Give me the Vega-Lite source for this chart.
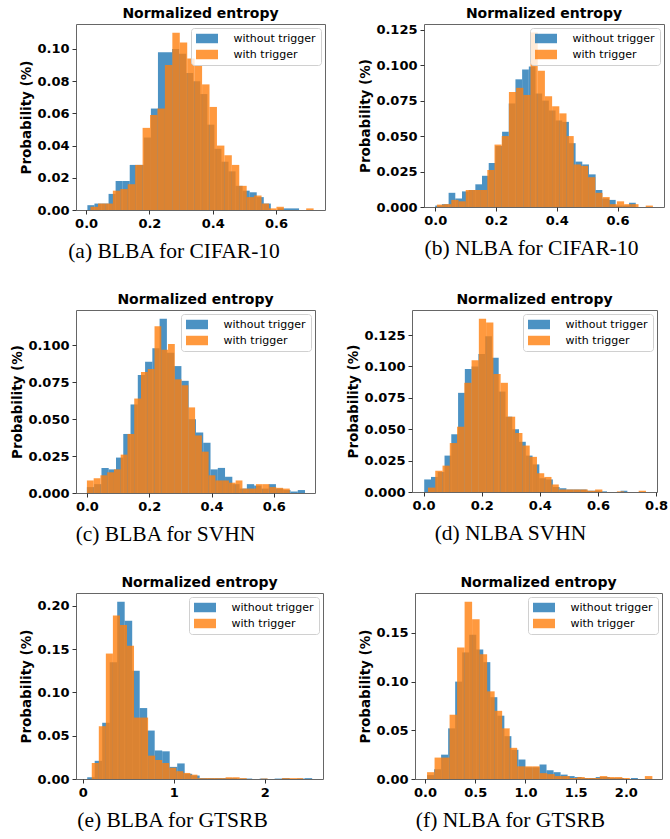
{
 "$schema": "https://vega.github.io/schema/vega-lite/v6.json",
 "padding": {"left": 10, "top": 6, "right": 0, "bottom": 0},
 "background": "white",
 "config": {
  "view": {"stroke": "#666", "strokeWidth": 1},
  "font": "DejaVu Sans",
  "title": {"font": "DejaVu Sans", "fontSize": 14, "fontWeight": "bold", "color": "#000", "offset": 3, "frame": "group", "anchor": "middle"},
  "axis": {"grid": false, "domain": false, "ticks": true, "tickSize": 4, "tickColor": "#333", "labelFont": "DejaVu Sans", "labelFontSize": 13, "labelFontWeight": "bold", "labelColor": "#000", "labelPadding": 3, "titleColor": "#000", "labelOverlap": false, "labelFlush": false},
  "axisX": {"titleFont": "Liberation Serif", "titleFontSize": 21.5, "titleFontWeight": "normal", "titlePadding": 10},
  "axisY": {"titleFont": "DejaVu Sans", "titleFontSize": 13.5, "titleFontWeight": "bold", "titlePadding": 3},
  "legend": {"orient": "top-right", "offset": 4, "padding": 5, "strokeColor": "#d0d0d0", "fillColor": "rgba(255,255,255,0.8)", "cornerRadius": 3, "labelFont": "DejaVu Sans", "labelFontSize": 11, "labelColor": "#000", "symbolType": "M-2,-0.86H2V0.86H-2Z", "symbolSize": 121, "symbolOpacity": 0.8, "symbolStrokeWidth": 0, "symbolOffset": 5.5, "labelOffset": 21, "rowPadding": 4}
 },
 "data": {"values": [
  {"p":"a","s":"without trigger","x0":0.0040,"x1":0.0263,"v":0.003},
  {"p":"a","s":"without trigger","x0":0.0263,"x1":0.0486,"v":0.004},
  {"p":"a","s":"without trigger","x0":0.0486,"x1":0.0709,"v":0.004},
  {"p":"a","s":"without trigger","x0":0.0709,"x1":0.0932,"v":0.010},
  {"p":"a","s":"without trigger","x0":0.0932,"x1":0.1155,"v":0.018},
  {"p":"a","s":"without trigger","x0":0.1155,"x1":0.1378,"v":0.018},
  {"p":"a","s":"without trigger","x0":0.1378,"x1":0.1601,"v":0.028},
  {"p":"a","s":"without trigger","x0":0.1601,"x1":0.1824,"v":0.028},
  {"p":"a","s":"without trigger","x0":0.1824,"x1":0.2047,"v":0.045},
  {"p":"a","s":"without trigger","x0":0.2047,"x1":0.2270,"v":0.063},
  {"p":"a","s":"without trigger","x0":0.2270,"x1":0.2493,"v":0.098},
  {"p":"a","s":"without trigger","x0":0.2493,"x1":0.2716,"v":0.098},
  {"p":"a","s":"without trigger","x0":0.2716,"x1":0.2939,"v":0.100},
  {"p":"a","s":"without trigger","x0":0.2939,"x1":0.3162,"v":0.097},
  {"p":"a","s":"without trigger","x0":0.3162,"x1":0.3385,"v":0.085},
  {"p":"a","s":"without trigger","x0":0.3385,"x1":0.3608,"v":0.080},
  {"p":"a","s":"without trigger","x0":0.3608,"x1":0.3831,"v":0.072},
  {"p":"a","s":"without trigger","x0":0.3831,"x1":0.4054,"v":0.053},
  {"p":"a","s":"without trigger","x0":0.4054,"x1":0.4277,"v":0.038},
  {"p":"a","s":"without trigger","x0":0.4277,"x1":0.4500,"v":0.030},
  {"p":"a","s":"without trigger","x0":0.4500,"x1":0.4723,"v":0.024},
  {"p":"a","s":"without trigger","x0":0.4723,"x1":0.4946,"v":0.015},
  {"p":"a","s":"without trigger","x0":0.4946,"x1":0.5169,"v":0.012},
  {"p":"a","s":"without trigger","x0":0.5169,"x1":0.5392,"v":0.011},
  {"p":"a","s":"without trigger","x0":0.5392,"x1":0.5615,"v":0.008},
  {"p":"a","s":"without trigger","x0":0.5615,"x1":0.5838,"v":0.004},
  {"p":"a","s":"without trigger","x0":0.5838,"x1":0.6061,"v":0.000},
  {"p":"a","s":"without trigger","x0":0.6061,"x1":0.6284,"v":0.001},
  {"p":"a","s":"without trigger","x0":0.6284,"x1":0.6507,"v":0.001},
  {"p":"a","s":"without trigger","x0":0.6507,"x1":0.6730,"v":0.001},
  {"p":"a","s":"with trigger","x0":0.0140,"x1":0.0375,"v":0.002},
  {"p":"a","s":"with trigger","x0":0.0375,"x1":0.0610,"v":0.004},
  {"p":"a","s":"with trigger","x0":0.0610,"x1":0.0845,"v":0.004},
  {"p":"a","s":"with trigger","x0":0.0845,"x1":0.1080,"v":0.012},
  {"p":"a","s":"with trigger","x0":0.1080,"x1":0.1315,"v":0.013},
  {"p":"a","s":"with trigger","x0":0.1315,"x1":0.1550,"v":0.016},
  {"p":"a","s":"with trigger","x0":0.1550,"x1":0.1785,"v":0.028},
  {"p":"a","s":"with trigger","x0":0.1785,"x1":0.2020,"v":0.051},
  {"p":"a","s":"with trigger","x0":0.2020,"x1":0.2255,"v":0.059},
  {"p":"a","s":"with trigger","x0":0.2255,"x1":0.2490,"v":0.063},
  {"p":"a","s":"with trigger","x0":0.2490,"x1":0.2725,"v":0.090},
  {"p":"a","s":"with trigger","x0":0.2725,"x1":0.2960,"v":0.110},
  {"p":"a","s":"with trigger","x0":0.2960,"x1":0.3195,"v":0.104},
  {"p":"a","s":"with trigger","x0":0.3195,"x1":0.3430,"v":0.094},
  {"p":"a","s":"with trigger","x0":0.3430,"x1":0.3665,"v":0.090},
  {"p":"a","s":"with trigger","x0":0.3665,"x1":0.3900,"v":0.078},
  {"p":"a","s":"with trigger","x0":0.3900,"x1":0.4135,"v":0.064},
  {"p":"a","s":"with trigger","x0":0.4135,"x1":0.4370,"v":0.040},
  {"p":"a","s":"with trigger","x0":0.4370,"x1":0.4605,"v":0.034},
  {"p":"a","s":"with trigger","x0":0.4605,"x1":0.4840,"v":0.028},
  {"p":"a","s":"with trigger","x0":0.4840,"x1":0.5075,"v":0.015},
  {"p":"a","s":"with trigger","x0":0.5075,"x1":0.5310,"v":0.008},
  {"p":"a","s":"with trigger","x0":0.5310,"x1":0.5545,"v":0.009},
  {"p":"a","s":"with trigger","x0":0.5545,"x1":0.5780,"v":0.004},
  {"p":"a","s":"with trigger","x0":0.5780,"x1":0.6015,"v":0.001},
  {"p":"a","s":"with trigger","x0":0.6015,"x1":0.6250,"v":0.002},
  {"p":"a","s":"with trigger","x0":0.6250,"x1":0.6485,"v":0},
  {"p":"a","s":"with trigger","x0":0.6485,"x1":0.6720,"v":0},
  {"p":"a","s":"with trigger","x0":0.6720,"x1":0.6955,"v":0},
  {"p":"a","s":"with trigger","x0":0.6955,"x1":0.7190,"v":0.001},

  {"p":"b","s":"without trigger","x0":0.000,"x1":0.022,"v":0.001},
  {"p":"b","s":"without trigger","x0":0.022,"x1":0.044,"v":0.002},
  {"p":"b","s":"without trigger","x0":0.044,"x1":0.066,"v":0.010},
  {"p":"b","s":"without trigger","x0":0.066,"x1":0.088,"v":0.006},
  {"p":"b","s":"without trigger","x0":0.088,"x1":0.110,"v":0.011},
  {"p":"b","s":"without trigger","x0":0.110,"x1":0.132,"v":0.012},
  {"p":"b","s":"without trigger","x0":0.132,"x1":0.154,"v":0.016},
  {"p":"b","s":"without trigger","x0":0.154,"x1":0.176,"v":0.022},
  {"p":"b","s":"without trigger","x0":0.176,"x1":0.198,"v":0.031},
  {"p":"b","s":"without trigger","x0":0.198,"x1":0.220,"v":0.043},
  {"p":"b","s":"without trigger","x0":0.220,"x1":0.242,"v":0.053},
  {"p":"b","s":"without trigger","x0":0.242,"x1":0.264,"v":0.073},
  {"p":"b","s":"without trigger","x0":0.264,"x1":0.286,"v":0.090},
  {"p":"b","s":"without trigger","x0":0.286,"x1":0.308,"v":0.097},
  {"p":"b","s":"without trigger","x0":0.308,"x1":0.330,"v":0.099},
  {"p":"b","s":"without trigger","x0":0.330,"x1":0.352,"v":0.080},
  {"p":"b","s":"without trigger","x0":0.352,"x1":0.374,"v":0.075},
  {"p":"b","s":"without trigger","x0":0.374,"x1":0.396,"v":0.068},
  {"p":"b","s":"without trigger","x0":0.396,"x1":0.418,"v":0.061},
  {"p":"b","s":"without trigger","x0":0.418,"x1":0.440,"v":0.060},
  {"p":"b","s":"without trigger","x0":0.440,"x1":0.462,"v":0.045},
  {"p":"b","s":"without trigger","x0":0.462,"x1":0.484,"v":0.032},
  {"p":"b","s":"without trigger","x0":0.484,"x1":0.506,"v":0.030},
  {"p":"b","s":"without trigger","x0":0.506,"x1":0.528,"v":0.023},
  {"p":"b","s":"without trigger","x0":0.528,"x1":0.550,"v":0.012},
  {"p":"b","s":"without trigger","x0":0.550,"x1":0.572,"v":0.006},
  {"p":"b","s":"without trigger","x0":0.572,"x1":0.594,"v":0.005},
  {"p":"b","s":"without trigger","x0":0.594,"x1":0.616,"v":0.001},
  {"p":"b","s":"without trigger","x0":0.616,"x1":0.638,"v":0.001},
  {"p":"b","s":"without trigger","x0":0.638,"x1":0.660,"v":0.003},
  {"p":"b","s":"with trigger","x0":0.0055,"x1":0.0292,"v":0.0017},
  {"p":"b","s":"with trigger","x0":0.0292,"x1":0.0529,"v":0.002},
  {"p":"b","s":"with trigger","x0":0.0529,"x1":0.0766,"v":0.005},
  {"p":"b","s":"with trigger","x0":0.0766,"x1":0.1003,"v":0.004},
  {"p":"b","s":"with trigger","x0":0.1003,"x1":0.1240,"v":0.012},
  {"p":"b","s":"with trigger","x0":0.1240,"x1":0.1477,"v":0.012},
  {"p":"b","s":"with trigger","x0":0.1477,"x1":0.1714,"v":0.012},
  {"p":"b","s":"with trigger","x0":0.1714,"x1":0.1951,"v":0.026},
  {"p":"b","s":"with trigger","x0":0.1951,"x1":0.2188,"v":0.044},
  {"p":"b","s":"with trigger","x0":0.2188,"x1":0.2425,"v":0.050},
  {"p":"b","s":"with trigger","x0":0.2425,"x1":0.2662,"v":0.081},
  {"p":"b","s":"with trigger","x0":0.2662,"x1":0.2899,"v":0.084},
  {"p":"b","s":"with trigger","x0":0.2899,"x1":0.3136,"v":0.079},
  {"p":"b","s":"with trigger","x0":0.3136,"x1":0.3373,"v":0.123},
  {"p":"b","s":"with trigger","x0":0.3373,"x1":0.3610,"v":0.096},
  {"p":"b","s":"with trigger","x0":0.3610,"x1":0.3847,"v":0.078},
  {"p":"b","s":"with trigger","x0":0.3847,"x1":0.4084,"v":0.071},
  {"p":"b","s":"with trigger","x0":0.4084,"x1":0.4321,"v":0.066},
  {"p":"b","s":"with trigger","x0":0.4321,"x1":0.4558,"v":0.050},
  {"p":"b","s":"with trigger","x0":0.4558,"x1":0.4795,"v":0.030},
  {"p":"b","s":"with trigger","x0":0.4795,"x1":0.5032,"v":0.029},
  {"p":"b","s":"with trigger","x0":0.5032,"x1":0.5269,"v":0.021},
  {"p":"b","s":"with trigger","x0":0.5269,"x1":0.5506,"v":0.010},
  {"p":"b","s":"with trigger","x0":0.5506,"x1":0.5743,"v":0.007},
  {"p":"b","s":"with trigger","x0":0.5743,"x1":0.5980,"v":0.002},
  {"p":"b","s":"with trigger","x0":0.5980,"x1":0.6217,"v":0.004},
  {"p":"b","s":"with trigger","x0":0.6217,"x1":0.6454,"v":0.002},
  {"p":"b","s":"with trigger","x0":0.6454,"x1":0.6691,"v":0.002},
  {"p":"b","s":"with trigger","x0":0.6691,"x1":0.6928,"v":0},
  {"p":"b","s":"with trigger","x0":0.6928,"x1":0.7165,"v":0.001},

  {"p":"c","s":"without trigger","x0":0.0000,"x1":0.0233,"v":0.004},
  {"p":"c","s":"without trigger","x0":0.0233,"x1":0.0467,"v":0.006},
  {"p":"c","s":"without trigger","x0":0.0467,"x1":0.0700,"v":0.017},
  {"p":"c","s":"without trigger","x0":0.0700,"x1":0.0933,"v":0.016},
  {"p":"c","s":"without trigger","x0":0.0933,"x1":0.1167,"v":0.024},
  {"p":"c","s":"without trigger","x0":0.1167,"x1":0.1400,"v":0.040},
  {"p":"c","s":"without trigger","x0":0.1400,"x1":0.1633,"v":0.060},
  {"p":"c","s":"without trigger","x0":0.1633,"x1":0.1867,"v":0.080},
  {"p":"c","s":"without trigger","x0":0.1867,"x1":0.2100,"v":0.089},
  {"p":"c","s":"without trigger","x0":0.2100,"x1":0.2333,"v":0.098},
  {"p":"c","s":"without trigger","x0":0.2333,"x1":0.2567,"v":0.118},
  {"p":"c","s":"without trigger","x0":0.2567,"x1":0.2800,"v":0.095},
  {"p":"c","s":"without trigger","x0":0.2800,"x1":0.3033,"v":0.086},
  {"p":"c","s":"without trigger","x0":0.3033,"x1":0.3267,"v":0.076},
  {"p":"c","s":"without trigger","x0":0.3267,"x1":0.3500,"v":0.050},
  {"p":"c","s":"without trigger","x0":0.3500,"x1":0.3733,"v":0.041},
  {"p":"c","s":"without trigger","x0":0.3733,"x1":0.3967,"v":0.034},
  {"p":"c","s":"without trigger","x0":0.3967,"x1":0.4200,"v":0.016},
  {"p":"c","s":"without trigger","x0":0.4200,"x1":0.4433,"v":0.017},
  {"p":"c","s":"without trigger","x0":0.4433,"x1":0.4667,"v":0.011},
  {"p":"c","s":"without trigger","x0":0.4667,"x1":0.4900,"v":0.006},
  {"p":"c","s":"without trigger","x0":0.4900,"x1":0.5133,"v":0.003},
  {"p":"c","s":"without trigger","x0":0.5133,"x1":0.5367,"v":0.006},
  {"p":"c","s":"without trigger","x0":0.5367,"x1":0.5600,"v":0.005},
  {"p":"c","s":"without trigger","x0":0.5600,"x1":0.5833,"v":0.003},
  {"p":"c","s":"without trigger","x0":0.5833,"x1":0.6067,"v":0.006},
  {"p":"c","s":"without trigger","x0":0.6067,"x1":0.6300,"v":0.003},
  {"p":"c","s":"without trigger","x0":0.6300,"x1":0.6533,"v":0.002},
  {"p":"c","s":"without trigger","x0":0.6533,"x1":0.6767,"v":0.001},
  {"p":"c","s":"without trigger","x0":0.6767,"x1":0.7000,"v":0.002},
  {"p":"c","s":"with trigger","x0":0.0000,"x1":0.0217,"v":0.0085},
  {"p":"c","s":"with trigger","x0":0.0217,"x1":0.0434,"v":0.010},
  {"p":"c","s":"with trigger","x0":0.0434,"x1":0.0651,"v":0.012},
  {"p":"c","s":"with trigger","x0":0.0651,"x1":0.0868,"v":0.014},
  {"p":"c","s":"with trigger","x0":0.0868,"x1":0.1085,"v":0.016},
  {"p":"c","s":"with trigger","x0":0.1085,"x1":0.1302,"v":0.026},
  {"p":"c","s":"with trigger","x0":0.1302,"x1":0.1519,"v":0.040},
  {"p":"c","s":"with trigger","x0":0.1519,"x1":0.1736,"v":0.064},
  {"p":"c","s":"with trigger","x0":0.1736,"x1":0.1953,"v":0.082},
  {"p":"c","s":"with trigger","x0":0.1953,"x1":0.2170,"v":0.084},
  {"p":"c","s":"with trigger","x0":0.2170,"x1":0.2387,"v":0.113},
  {"p":"c","s":"with trigger","x0":0.2387,"x1":0.2604,"v":0.097},
  {"p":"c","s":"with trigger","x0":0.2604,"x1":0.2821,"v":0.101},
  {"p":"c","s":"with trigger","x0":0.2821,"x1":0.3038,"v":0.077},
  {"p":"c","s":"with trigger","x0":0.3038,"x1":0.3255,"v":0.073},
  {"p":"c","s":"with trigger","x0":0.3255,"x1":0.3472,"v":0.058},
  {"p":"c","s":"with trigger","x0":0.3472,"x1":0.3689,"v":0.039},
  {"p":"c","s":"with trigger","x0":0.3689,"x1":0.3906,"v":0.028},
  {"p":"c","s":"with trigger","x0":0.3906,"x1":0.4123,"v":0.012},
  {"p":"c","s":"with trigger","x0":0.4123,"x1":0.4340,"v":0.0085},
  {"p":"c","s":"with trigger","x0":0.4340,"x1":0.4557,"v":0.0085},
  {"p":"c","s":"with trigger","x0":0.4557,"x1":0.4774,"v":0.007},
  {"p":"c","s":"with trigger","x0":0.4774,"x1":0.4991,"v":0.0085},
  {"p":"c","s":"with trigger","x0":0.4991,"x1":0.5208,"v":0.003},
  {"p":"c","s":"with trigger","x0":0.5208,"x1":0.5425,"v":0.003},
  {"p":"c","s":"with trigger","x0":0.5425,"x1":0.5642,"v":0.006},
  {"p":"c","s":"with trigger","x0":0.5642,"x1":0.5859,"v":0.006},
  {"p":"c","s":"with trigger","x0":0.5859,"x1":0.6076,"v":0.004},
  {"p":"c","s":"with trigger","x0":0.6076,"x1":0.6293,"v":0.0035},
  {"p":"c","s":"with trigger","x0":0.6293,"x1":0.6510,"v":0.003},

  {"p":"d","s":"without trigger","x0":0.0020,"x1":0.0253,"v":0.010},
  {"p":"d","s":"without trigger","x0":0.0253,"x1":0.0486,"v":0.012},
  {"p":"d","s":"without trigger","x0":0.0486,"x1":0.0719,"v":0.016},
  {"p":"d","s":"without trigger","x0":0.0719,"x1":0.0952,"v":0.029},
  {"p":"d","s":"without trigger","x0":0.0952,"x1":0.1185,"v":0.046},
  {"p":"d","s":"without trigger","x0":0.1185,"x1":0.1418,"v":0.079},
  {"p":"d","s":"without trigger","x0":0.1418,"x1":0.1651,"v":0.098},
  {"p":"d","s":"without trigger","x0":0.1651,"x1":0.1884,"v":0.100},
  {"p":"d","s":"without trigger","x0":0.1884,"x1":0.2117,"v":0.110},
  {"p":"d","s":"without trigger","x0":0.2117,"x1":0.2350,"v":0.124},
  {"p":"d","s":"without trigger","x0":0.2350,"x1":0.2583,"v":0.107},
  {"p":"d","s":"without trigger","x0":0.2583,"x1":0.2816,"v":0.080},
  {"p":"d","s":"without trigger","x0":0.2816,"x1":0.3049,"v":0.060},
  {"p":"d","s":"without trigger","x0":0.3049,"x1":0.3282,"v":0.050},
  {"p":"d","s":"without trigger","x0":0.3282,"x1":0.3515,"v":0.040},
  {"p":"d","s":"without trigger","x0":0.3515,"x1":0.3748,"v":0.029},
  {"p":"d","s":"without trigger","x0":0.3748,"x1":0.3981,"v":0.022},
  {"p":"d","s":"without trigger","x0":0.3981,"x1":0.4214,"v":0.011},
  {"p":"d","s":"without trigger","x0":0.4214,"x1":0.4447,"v":0.010},
  {"p":"d","s":"without trigger","x0":0.4447,"x1":0.4680,"v":0.004},
  {"p":"d","s":"without trigger","x0":0.4680,"x1":0.4913,"v":0.003},
  {"p":"d","s":"without trigger","x0":0.4913,"x1":0.5146,"v":0.002},
  {"p":"d","s":"without trigger","x0":0.5146,"x1":0.5379,"v":0.002},
  {"p":"d","s":"without trigger","x0":0.5379,"x1":0.5612,"v":0.002},
  {"p":"d","s":"without trigger","x0":0.5612,"x1":0.5845,"v":0.001},
  {"p":"d","s":"without trigger","x0":0.5845,"x1":0.6078,"v":0.001},
  {"p":"d","s":"without trigger","x0":0.6078,"x1":0.6311,"v":0.0005},
  {"p":"d","s":"without trigger","x0":0.6311,"x1":0.6544,"v":0},
  {"p":"d","s":"without trigger","x0":0.6544,"x1":0.6777,"v":0},
  {"p":"d","s":"without trigger","x0":0.6777,"x1":0.7010,"v":0.001},
  {"p":"d","s":"with trigger","x0":0.015,"x1":0.040,"v":0.0035},
  {"p":"d","s":"with trigger","x0":0.040,"x1":0.065,"v":0.017},
  {"p":"d","s":"with trigger","x0":0.065,"x1":0.090,"v":0.021},
  {"p":"d","s":"with trigger","x0":0.090,"x1":0.115,"v":0.039},
  {"p":"d","s":"with trigger","x0":0.115,"x1":0.140,"v":0.052},
  {"p":"d","s":"with trigger","x0":0.140,"x1":0.165,"v":0.087},
  {"p":"d","s":"with trigger","x0":0.165,"x1":0.190,"v":0.105},
  {"p":"d","s":"with trigger","x0":0.190,"x1":0.215,"v":0.138},
  {"p":"d","s":"with trigger","x0":0.215,"x1":0.240,"v":0.135},
  {"p":"d","s":"with trigger","x0":0.240,"x1":0.265,"v":0.094},
  {"p":"d","s":"with trigger","x0":0.265,"x1":0.290,"v":0.087},
  {"p":"d","s":"with trigger","x0":0.290,"x1":0.315,"v":0.060},
  {"p":"d","s":"with trigger","x0":0.315,"x1":0.340,"v":0.047},
  {"p":"d","s":"with trigger","x0":0.340,"x1":0.365,"v":0.037},
  {"p":"d","s":"with trigger","x0":0.365,"x1":0.390,"v":0.028},
  {"p":"d","s":"with trigger","x0":0.390,"x1":0.415,"v":0.015},
  {"p":"d","s":"with trigger","x0":0.415,"x1":0.440,"v":0.012},
  {"p":"d","s":"with trigger","x0":0.440,"x1":0.465,"v":0.006},
  {"p":"d","s":"with trigger","x0":0.465,"x1":0.490,"v":0.002},
  {"p":"d","s":"with trigger","x0":0.490,"x1":0.515,"v":0.002},
  {"p":"d","s":"with trigger","x0":0.515,"x1":0.540,"v":0.002},
  {"p":"d","s":"with trigger","x0":0.540,"x1":0.565,"v":0.002},
  {"p":"d","s":"with trigger","x0":0.565,"x1":0.590,"v":0.001},
  {"p":"d","s":"with trigger","x0":0.590,"x1":0.615,"v":0.002},
  {"p":"d","s":"with trigger","x0":0.615,"x1":0.640,"v":0},
  {"p":"d","s":"with trigger","x0":0.640,"x1":0.665,"v":0},
  {"p":"d","s":"with trigger","x0":0.665,"x1":0.690,"v":0.0005},
  {"p":"d","s":"with trigger","x0":0.690,"x1":0.715,"v":0},
  {"p":"d","s":"with trigger","x0":0.715,"x1":0.740,"v":0},
  {"p":"d","s":"with trigger","x0":0.740,"x1":0.765,"v":0.001},

  {"p":"e","s":"without trigger","x0":0.0500,"x1":0.1323,"v":0.002},
  {"p":"e","s":"without trigger","x0":0.1323,"x1":0.2146,"v":0.021},
  {"p":"e","s":"without trigger","x0":0.2146,"x1":0.2969,"v":0.065},
  {"p":"e","s":"without trigger","x0":0.2969,"x1":0.3792,"v":0.135},
  {"p":"e","s":"without trigger","x0":0.3792,"x1":0.4615,"v":0.205},
  {"p":"e","s":"without trigger","x0":0.4615,"x1":0.5438,"v":0.183},
  {"p":"e","s":"without trigger","x0":0.5438,"x1":0.6261,"v":0.125},
  {"p":"e","s":"without trigger","x0":0.6261,"x1":0.7084,"v":0.082},
  {"p":"e","s":"without trigger","x0":0.7084,"x1":0.7907,"v":0.056},
  {"p":"e","s":"without trigger","x0":0.7907,"x1":0.8730,"v":0.033},
  {"p":"e","s":"without trigger","x0":0.8730,"x1":0.9553,"v":0.032},
  {"p":"e","s":"without trigger","x0":0.9553,"x1":1.0376,"v":0.014},
  {"p":"e","s":"without trigger","x0":1.0376,"x1":1.1199,"v":0.018},
  {"p":"e","s":"without trigger","x0":1.1199,"x1":1.2022,"v":0.006},
  {"p":"e","s":"without trigger","x0":1.2022,"x1":1.2845,"v":0.004},
  {"p":"e","s":"without trigger","x0":1.2845,"x1":1.3668,"v":0.001},
  {"p":"e","s":"without trigger","x0":1.3668,"x1":1.4491,"v":0.001},
  {"p":"e","s":"without trigger","x0":1.4491,"x1":1.5314,"v":0.001},
  {"p":"e","s":"without trigger","x0":1.5314,"x1":1.6137,"v":0.001},
  {"p":"e","s":"without trigger","x0":1.6137,"x1":1.6960,"v":0.001},
  {"p":"e","s":"without trigger","x0":1.6960,"x1":1.7783,"v":0.0005},
  {"p":"e","s":"without trigger","x0":1.7783,"x1":1.8606,"v":0.0005},
  {"p":"e","s":"without trigger","x0":1.8606,"x1":1.9429,"v":0},
  {"p":"e","s":"without trigger","x0":1.9429,"x1":2.0252,"v":0.0005},
  {"p":"e","s":"without trigger","x0":2.0252,"x1":2.1075,"v":0},
  {"p":"e","s":"without trigger","x0":2.1075,"x1":2.1898,"v":0.0005},
  {"p":"e","s":"without trigger","x0":2.1898,"x1":2.2721,"v":0.001},
  {"p":"e","s":"without trigger","x0":2.2721,"x1":2.3544,"v":0},
  {"p":"e","s":"without trigger","x0":2.3544,"x1":2.4367,"v":0.0005},
  {"p":"e","s":"without trigger","x0":2.4367,"x1":2.5190,"v":0.001},
  {"p":"e","s":"with trigger","x0":0.1000,"x1":0.1773,"v":0.0185},
  {"p":"e","s":"with trigger","x0":0.1773,"x1":0.2546,"v":0.061},
  {"p":"e","s":"with trigger","x0":0.2546,"x1":0.3319,"v":0.145},
  {"p":"e","s":"with trigger","x0":0.3319,"x1":0.4092,"v":0.189},
  {"p":"e","s":"with trigger","x0":0.4092,"x1":0.4865,"v":0.178},
  {"p":"e","s":"with trigger","x0":0.4865,"x1":0.5638,"v":0.154},
  {"p":"e","s":"with trigger","x0":0.5638,"x1":0.6411,"v":0.071},
  {"p":"e","s":"with trigger","x0":0.6411,"x1":0.7184,"v":0.071},
  {"p":"e","s":"with trigger","x0":0.7184,"x1":0.7957,"v":0.027},
  {"p":"e","s":"with trigger","x0":0.7957,"x1":0.8730,"v":0.022},
  {"p":"e","s":"with trigger","x0":0.8730,"x1":0.9503,"v":0.0185},
  {"p":"e","s":"with trigger","x0":0.9503,"x1":1.0276,"v":0.013},
  {"p":"e","s":"with trigger","x0":1.0276,"x1":1.1049,"v":0.009},
  {"p":"e","s":"with trigger","x0":1.1049,"x1":1.1822,"v":0.007},
  {"p":"e","s":"with trigger","x0":1.1822,"x1":1.2595,"v":0.005},
  {"p":"e","s":"with trigger","x0":1.2595,"x1":1.3368,"v":0.001},
  {"p":"e","s":"with trigger","x0":1.3368,"x1":1.4141,"v":0.001},
  {"p":"e","s":"with trigger","x0":1.4141,"x1":1.4914,"v":0.001},
  {"p":"e","s":"with trigger","x0":1.4914,"x1":1.5687,"v":0.001},
  {"p":"e","s":"with trigger","x0":1.5687,"x1":1.6460,"v":0.002},
  {"p":"e","s":"with trigger","x0":1.6460,"x1":1.7233,"v":0.002},
  {"p":"e","s":"with trigger","x0":1.7233,"x1":1.8006,"v":0.001},
  {"p":"e","s":"with trigger","x0":1.8006,"x1":1.8779,"v":0},
  {"p":"e","s":"with trigger","x0":1.8779,"x1":1.9552,"v":0},
  {"p":"e","s":"with trigger","x0":1.9552,"x1":2.0325,"v":0.0005},
  {"p":"e","s":"with trigger","x0":2.0325,"x1":2.1098,"v":0},
  {"p":"e","s":"with trigger","x0":2.1098,"x1":2.1871,"v":0},
  {"p":"e","s":"with trigger","x0":2.1871,"x1":2.2644,"v":0.001},
  {"p":"e","s":"with trigger","x0":2.2644,"x1":2.3417,"v":0.001},
  {"p":"e","s":"with trigger","x0":2.3417,"x1":2.4190,"v":0.001},

  {"p":"f","s":"without trigger","x0":0.02,"x1":0.09,"v":0.004},
  {"p":"f","s":"without trigger","x0":0.09,"x1":0.16,"v":0.010},
  {"p":"f","s":"without trigger","x0":0.16,"x1":0.23,"v":0.025},
  {"p":"f","s":"without trigger","x0":0.23,"x1":0.30,"v":0.052},
  {"p":"f","s":"without trigger","x0":0.30,"x1":0.37,"v":0.100},
  {"p":"f","s":"without trigger","x0":0.37,"x1":0.44,"v":0.130},
  {"p":"f","s":"without trigger","x0":0.44,"x1":0.51,"v":0.148},
  {"p":"f","s":"without trigger","x0":0.51,"x1":0.58,"v":0.133},
  {"p":"f","s":"without trigger","x0":0.58,"x1":0.65,"v":0.120},
  {"p":"f","s":"without trigger","x0":0.65,"x1":0.72,"v":0.084},
  {"p":"f","s":"without trigger","x0":0.72,"x1":0.79,"v":0.065},
  {"p":"f","s":"without trigger","x0":0.79,"x1":0.86,"v":0.044},
  {"p":"f","s":"without trigger","x0":0.86,"x1":0.93,"v":0.030},
  {"p":"f","s":"without trigger","x0":0.93,"x1":1.00,"v":0.020},
  {"p":"f","s":"without trigger","x0":1.00,"x1":1.07,"v":0.012},
  {"p":"f","s":"without trigger","x0":1.07,"x1":1.14,"v":0.012},
  {"p":"f","s":"without trigger","x0":1.14,"x1":1.21,"v":0.015},
  {"p":"f","s":"without trigger","x0":1.21,"x1":1.28,"v":0.009},
  {"p":"f","s":"without trigger","x0":1.28,"x1":1.35,"v":0.007},
  {"p":"f","s":"without trigger","x0":1.35,"x1":1.42,"v":0.0045},
  {"p":"f","s":"without trigger","x0":1.42,"x1":1.49,"v":0.003},
  {"p":"f","s":"without trigger","x0":1.49,"x1":1.56,"v":0.002},
  {"p":"f","s":"without trigger","x0":1.56,"x1":1.63,"v":0.001},
  {"p":"f","s":"without trigger","x0":1.63,"x1":1.70,"v":0.001},
  {"p":"f","s":"without trigger","x0":1.70,"x1":1.77,"v":0.002},
  {"p":"f","s":"without trigger","x0":1.77,"x1":1.84,"v":0.002},
  {"p":"f","s":"without trigger","x0":1.84,"x1":1.91,"v":0.001},
  {"p":"f","s":"without trigger","x0":1.91,"x1":1.98,"v":0.001},
  {"p":"f","s":"without trigger","x0":1.98,"x1":2.05,"v":0},
  {"p":"f","s":"without trigger","x0":2.05,"x1":2.12,"v":0.001},
  {"p":"f","s":"with trigger","x0":0.0200,"x1":0.0948,"v":0.007},
  {"p":"f","s":"with trigger","x0":0.0948,"x1":0.1696,"v":0.022},
  {"p":"f","s":"with trigger","x0":0.1696,"x1":0.2444,"v":0.022},
  {"p":"f","s":"with trigger","x0":0.2444,"x1":0.3192,"v":0.066},
  {"p":"f","s":"with trigger","x0":0.3192,"x1":0.3940,"v":0.135},
  {"p":"f","s":"with trigger","x0":0.3940,"x1":0.4688,"v":0.182},
  {"p":"f","s":"with trigger","x0":0.4688,"x1":0.5436,"v":0.164},
  {"p":"f","s":"with trigger","x0":0.5436,"x1":0.6184,"v":0.128},
  {"p":"f","s":"with trigger","x0":0.6184,"x1":0.6932,"v":0.090},
  {"p":"f","s":"with trigger","x0":0.6932,"x1":0.7680,"v":0.070},
  {"p":"f","s":"with trigger","x0":0.7680,"x1":0.8428,"v":0.052},
  {"p":"f","s":"with trigger","x0":0.8428,"x1":0.9176,"v":0.032},
  {"p":"f","s":"with trigger","x0":0.9176,"x1":0.9924,"v":0.013},
  {"p":"f","s":"with trigger","x0":0.9924,"x1":1.0672,"v":0.013},
  {"p":"f","s":"with trigger","x0":1.0672,"x1":1.1420,"v":0.013},
  {"p":"f","s":"with trigger","x0":1.1420,"x1":1.2168,"v":0.006},
  {"p":"f","s":"with trigger","x0":1.2168,"x1":1.2916,"v":0.005},
  {"p":"f","s":"with trigger","x0":1.2916,"x1":1.3664,"v":0.003},
  {"p":"f","s":"with trigger","x0":1.3664,"x1":1.4412,"v":0.003},
  {"p":"f","s":"with trigger","x0":1.4412,"x1":1.5160,"v":0.001},
  {"p":"f","s":"with trigger","x0":1.5160,"x1":1.5908,"v":0.002},
  {"p":"f","s":"with trigger","x0":1.5908,"x1":1.6656,"v":0.001},
  {"p":"f","s":"with trigger","x0":1.6656,"x1":1.7404,"v":0.001},
  {"p":"f","s":"with trigger","x0":1.7404,"x1":1.8152,"v":0.003},
  {"p":"f","s":"with trigger","x0":1.8152,"x1":1.8900,"v":0.002},
  {"p":"f","s":"with trigger","x0":1.8900,"x1":1.9648,"v":0.002},
  {"p":"f","s":"with trigger","x0":1.9648,"x1":2.0396,"v":0.001},
  {"p":"f","s":"with trigger","x0":2.0396,"x1":2.1144,"v":0},
  {"p":"f","s":"with trigger","x0":2.1144,"x1":2.1892,"v":0},
  {"p":"f","s":"with trigger","x0":2.1892,"x1":2.2640,"v":0.003}
 ]},
 "spacing": 30,
 "resolve": {"scale": {"color": "independent"}, "legend": {"color": "independent"}},
 "vconcat": [
  {
   "spacing": 32,
   "resolve": {"scale": {"color": "independent"}, "legend": {"color": "independent"}},
   "hconcat": [
    {
     "width": 249, "height": 186, "title": "Normalized entropy",
     "transform": [{"filter": "datum.p == 'a'"}],
     "encoding": {
      "x": {"field": "x0", "type": "quantitative", "scale": {"domain": [-0.032, 0.755], "nice": false, "zero": false}, "axis": {"values": [0, 0.2, 0.4, 0.6], "format": ".1f", "title": "(a) BLBA for CIFAR-10", "titleX": 97.5}},
      "x2": {"field": "x1"},
      "y": {"field": "v", "type": "quantitative", "stack": null, "scale": {"domain": [0, 0.1155], "nice": false}, "axis": {"values": [0, 0.02, 0.04, 0.06, 0.08, 0.1], "format": ".2f", "title": "Probability (%)"}},
      "y2": {"datum": 0},
      "color": {"field": "s", "type": "nominal", "scale": {"domain": ["without trigger", "with trigger"], "range": ["#1f77b4", "#ff7f0e"]}, "legend": {"title": null}}
     },
     "layer": [
      {"transform": [{"filter": "datum.s == 'without trigger'"}], "mark": {"type": "bar", "opacity": 0.8}},
      {"transform": [{"filter": "datum.s == 'with trigger'"}], "mark": {"type": "bar", "opacity": 0.8}}
     ]
    },
    {
     "width": 240, "height": 183, "title": "Normalized entropy",
     "transform": [{"filter": "datum.p == 'b'"}],
     "encoding": {
      "x": {"field": "x0", "type": "quantitative", "scale": {"domain": [-0.037, 0.753], "nice": false, "zero": false}, "axis": {"values": [0, 0.2, 0.4, 0.6], "format": ".1f", "title": "(b) NLBA for CIFAR-10", "titleX": 107}},
      "x2": {"field": "x1"},
      "y": {"field": "v", "type": "quantitative", "stack": null, "scale": {"domain": [0, 0.129], "nice": false}, "axis": {"values": [0, 0.025, 0.05, 0.075, 0.1, 0.125], "format": ".3f", "title": "Probability (%)"}},
      "y2": {"datum": 0},
      "color": {"field": "s", "type": "nominal", "scale": {"domain": ["without trigger", "with trigger"], "range": ["#1f77b4", "#ff7f0e"]}, "legend": {"title": null}}
     },
     "layer": [
      {"transform": [{"filter": "datum.s == 'without trigger'"}], "mark": {"type": "bar", "opacity": 0.8}},
      {"transform": [{"filter": "datum.s == 'with trigger'"}], "mark": {"type": "bar", "opacity": 0.8}}
     ]
    }
   ]
  },
  {
   "spacing": 30,
   "resolve": {"scale": {"color": "independent"}, "legend": {"color": "independent"}},
   "hconcat": [
    {
     "width": 239, "height": 183, "title": "Normalized entropy",
     "transform": [{"filter": "datum.p == 'c'"}],
     "encoding": {
      "x": {"field": "x0", "type": "quantitative", "scale": {"domain": [-0.035, 0.732], "nice": false, "zero": false}, "axis": {"values": [0, 0.2, 0.4, 0.6], "format": ".1f", "title": "(c) BLBA for SVHN", "titleX": 89}},
      "x2": {"field": "x1"},
      "y": {"field": "v", "type": "quantitative", "stack": null, "scale": {"domain": [0, 0.124], "nice": false}, "axis": {"values": [0, 0.025, 0.05, 0.075, 0.1], "format": ".3f", "title": "Probability (%)"}},
      "y2": {"datum": 0},
      "color": {"field": "s", "type": "nominal", "scale": {"domain": ["without trigger", "with trigger"], "range": ["#1f77b4", "#ff7f0e"]}, "legend": {"title": null}}
     },
     "layer": [
      {"transform": [{"filter": "datum.s == 'without trigger'"}], "mark": {"type": "bar", "opacity": 0.8}},
      {"transform": [{"filter": "datum.s == 'with trigger'"}], "mark": {"type": "bar", "opacity": 0.8}}
     ]
    },
    {
     "width": 245, "height": 182, "title": "Normalized entropy",
     "transform": [{"filter": "datum.p == 'd'"}],
     "encoding": {
      "x": {"field": "x0", "type": "quantitative", "scale": {"domain": [-0.04, 0.803], "nice": false, "zero": false}, "axis": {"values": [0, 0.2, 0.4, 0.6, 0.8], "format": ".1f", "title": "(d) NLBA SVHN", "titleX": 98}},
      "x2": {"field": "x1"},
      "y": {"field": "v", "type": "quantitative", "stack": null, "scale": {"domain": [0, 0.145], "nice": false}, "axis": {"values": [0, 0.025, 0.05, 0.075, 0.1, 0.125], "format": ".3f", "title": "Probability (%)"}},
      "y2": {"datum": 0},
      "color": {"field": "s", "type": "nominal", "scale": {"domain": ["without trigger", "with trigger"], "range": ["#1f77b4", "#ff7f0e"]}, "legend": {"title": null}}
     },
     "layer": [
      {"transform": [{"filter": "datum.s == 'without trigger'"}], "mark": {"type": "bar", "opacity": 0.8}},
      {"transform": [{"filter": "datum.s == 'with trigger'"}], "mark": {"type": "bar", "opacity": 0.8}}
     ]
    }
   ]
  },
  {
   "spacing": 34,
   "resolve": {"scale": {"color": "independent"}, "legend": {"color": "independent"}},
   "hconcat": [
    {
     "width": 247, "height": 186, "title": "Normalized entropy",
     "transform": [{"filter": "datum.p == 'e'"}],
     "encoding": {
      "x": {"field": "x0", "type": "quantitative", "scale": {"domain": [-0.073, 2.638], "nice": false, "zero": false}, "axis": {"values": [0, 1, 2], "format": "d", "title": "(e) BLBA for GTSRB", "titleX": 96}},
      "x2": {"field": "x1"},
      "y": {"field": "v", "type": "quantitative", "stack": null, "scale": {"domain": [0, 0.215], "nice": false}, "axis": {"values": [0, 0.05, 0.1, 0.15, 0.2], "format": ".2f", "title": "Probability (%)"}},
      "y2": {"datum": 0},
      "color": {"field": "s", "type": "nominal", "scale": {"domain": ["without trigger", "with trigger"], "range": ["#1f77b4", "#ff7f0e"]}, "legend": {"title": null}}
     },
     "layer": [
      {"transform": [{"filter": "datum.s == 'without trigger'"}], "mark": {"type": "bar", "opacity": 0.8}},
      {"transform": [{"filter": "datum.s == 'with trigger'"}], "mark": {"type": "bar", "opacity": 0.8}}
     ]
    },
    {
     "width": 247, "height": 186, "title": "Normalized entropy",
     "transform": [{"filter": "datum.p == 'f'"}],
     "encoding": {
      "x": {"field": "x0", "type": "quantitative", "scale": {"domain": [-0.1, 2.36], "nice": false, "zero": false}, "axis": {"values": [0, 0.5, 1, 1.5, 2], "format": ".1f", "title": "(f) NLBA for GTSRB", "titleX": 95}},
      "x2": {"field": "x1"},
      "y": {"field": "v", "type": "quantitative", "stack": null, "scale": {"domain": [0, 0.191], "nice": false}, "axis": {"values": [0, 0.05, 0.1, 0.15], "format": ".2f", "title": "Probability (%)"}},
      "y2": {"datum": 0},
      "color": {"field": "s", "type": "nominal", "scale": {"domain": ["without trigger", "with trigger"], "range": ["#1f77b4", "#ff7f0e"]}, "legend": {"title": null}}
     },
     "layer": [
      {"transform": [{"filter": "datum.s == 'without trigger'"}], "mark": {"type": "bar", "opacity": 0.8}},
      {"transform": [{"filter": "datum.s == 'with trigger'"}], "mark": {"type": "bar", "opacity": 0.8}}
     ]
    }
   ]
  }
 ]
}
